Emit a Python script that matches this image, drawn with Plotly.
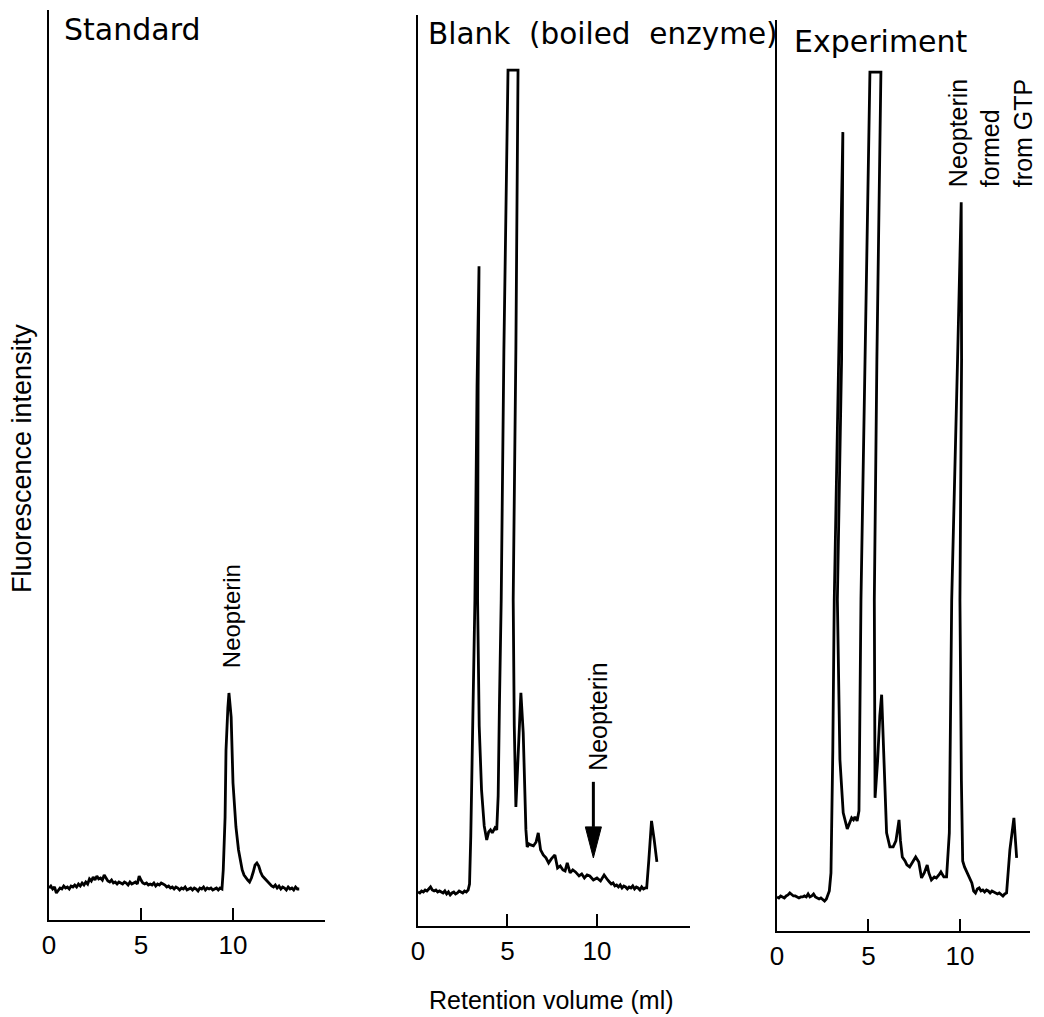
import plotly.graph_objects as go

# The page places the figure 8 px in from the window's top-left corner,
# so the figure is sized to fill the rest of the 1044x1017 window.
OFF = 8
W, H = 1044 - OFF, 1017 - OFF

# ---------------- data (retention volume in ml, fluorescence in arbitrary units) ----------------
std_x = [0.0, 0.1, 0.2, 0.3, 0.4, 0.5, 0.6, 0.7, 0.8, 0.9,
         1.0, 1.1, 1.2, 1.3, 1.4, 1.5, 1.6, 1.7, 1.8, 1.9,
         2.0, 2.1, 2.2, 2.3, 2.4, 2.5, 2.6, 2.7, 2.8, 2.9,
         3.0, 3.1, 3.2, 3.3, 3.4, 3.5, 3.6, 3.7, 3.8, 3.9,
         4.0, 4.1, 4.2, 4.3, 4.4, 4.5, 4.6, 4.7, 4.8, 4.9,
         5.0, 5.1, 5.2, 5.3, 5.4, 5.5, 5.6, 5.7, 5.8, 5.9,
         6.0, 6.1, 6.2, 6.3, 6.4, 6.5, 6.6, 6.7, 6.8, 6.9,
         7.0, 7.1, 7.2, 7.3, 7.4, 7.5, 7.6, 7.7, 7.8, 7.9,
         8.0, 8.1, 8.2, 8.3, 8.4, 8.5, 8.6, 8.7, 8.8, 8.9,
         9.0, 9.1, 9.2, 9.3, 9.4,
         9.47, 9.57, 9.62, 9.72, 9.78, 9.84, 9.9, 10.0, 10.08, 10.16,
         10.3, 10.5, 10.6, 10.7, 10.8, 10.9, 11.0, 11.1, 11.2, 11.3,
         11.35, 11.4, 11.5, 11.6, 11.7, 11.8, 11.9, 12.0, 12.1, 12.2,
         12.3, 12.4, 12.5, 12.6, 12.7, 12.8, 12.9, 13.0, 13.1, 13.2,
         13.3, 13.4, 13.5, 13.6]
std_y = [32, 34, 31, 33, 27, 30, 32, 31, 34, 32,
         33, 31, 34, 33, 35, 33, 36, 34, 37, 35,
         38, 36, 41, 39, 43, 40, 44, 41, 42, 40,
         45, 42, 39, 38, 40, 37, 38, 36, 38, 37,
         36, 38, 37, 35, 38, 36, 37, 38, 36, 44,
         40, 37, 36, 37, 35, 36, 35, 37, 34, 36,
         35, 37, 36, 35, 33, 34, 32, 33, 31, 33,
         32, 30, 32, 31, 33, 30, 31, 32, 30, 32,
         31, 29, 32, 31, 33, 30, 32, 31, 32, 30,
         31, 32, 30, 32, 31,
         50, 103, 170, 212, 227, 215, 203, 137, 115, 93,
         70, 50, 45, 42, 40, 38, 42, 48, 55, 57,
         56, 54, 48, 44, 42, 40, 37, 35, 34, 33,
         35, 32, 34, 31, 33, 32, 30, 33, 31, 32,
         30, 33, 31, 31]

blank_x = [0.0, 0.1, 0.2, 0.3, 0.4, 0.5, 0.6, 0.7, 0.8, 0.9,
           1.0, 1.1, 1.2, 1.3, 1.4, 1.5, 1.6, 1.7, 1.8, 1.9,
           2.0, 2.1, 2.2, 2.3, 2.4, 2.5, 2.6, 2.7, 2.8, 2.88,
           2.95, 3.05, 3.18, 3.3, 3.41, 3.36, 3.33, 3.42, 3.55, 3.7,
           3.84, 3.95, 4.05, 4.15, 4.3, 4.4, 4.48, 4.55, 4.65, 4.8,
           5.03, 5.59, 5.47, 5.32, 5.38, 5.47, 5.6, 5.75, 5.88, 6.03,
           6.1, 6.2, 6.3, 6.45, 6.6, 6.72, 6.85, 7.0, 7.15, 7.3,
           7.45, 7.65, 7.8, 7.95, 8.1, 8.22, 8.34, 8.5, 8.65, 8.8,
           9.0, 9.15, 9.3, 9.45, 9.6, 9.8, 10.0, 10.2, 10.4, 10.5,
           10.6, 10.7, 10.8, 10.9, 11.0, 11.1, 11.2, 11.3, 11.4, 11.5,
           11.6, 11.7, 11.8, 11.9, 12.0, 12.1, 12.2, 12.3, 12.4, 12.5,
           12.6, 12.7, 12.78, 12.9, 13.05, 13.2, 13.35]
blank_y = [34, 33, 35, 34, 36, 35, 37, 39, 36, 35,
           36, 34, 35, 34, 33, 35, 32, 34, 31, 33,
           34, 32, 33, 35, 34, 33, 35, 34, 36, 42,
           90, 190, 326, 540, 659, 540, 326, 200, 136, 100,
           86, 94, 96, 93, 98, 96, 130, 220, 326, 576,
           855, 855, 576, 326, 200, 119, 180, 233, 193, 96,
           79, 82, 81, 80, 84, 93, 76, 71, 68, 63,
           67, 71, 58, 60, 56, 55, 63, 53, 56, 54,
           50, 52, 48, 51, 50, 46, 48, 45, 51, 48,
           46, 44, 42, 43, 40, 41, 39, 41, 38, 40,
           39, 37, 39, 38, 40, 37, 39, 38, 36, 39,
           37, 38, 38, 66, 105, 86, 64]

exp_x = [0.0, 0.1, 0.2, 0.3, 0.4, 0.5, 0.6, 0.7, 0.8, 0.9,
         1.0, 1.1, 1.2, 1.3, 1.4, 1.5, 1.6, 1.7, 1.8, 1.9,
         2.0, 2.1, 2.2, 2.3, 2.4, 2.5, 2.6, 2.7, 2.8, 2.86,
         2.95, 3.05, 3.13, 3.39, 3.6, 3.53, 3.3, 3.44, 3.62, 3.84,
         3.95, 4.08, 4.18, 4.26, 4.38, 4.48, 4.59, 4.81, 5.08, 5.68,
         5.46, 5.32, 5.34, 5.36, 5.5, 5.62, 5.72, 5.85, 5.99, 6.17,
         6.35, 6.5, 6.67, 6.75, 6.85, 7.0, 7.1, 7.25, 7.4, 7.58,
         7.75, 7.9, 8.05, 8.21, 8.3, 8.44, 8.6, 8.71, 8.85, 8.96,
         9.12, 9.27, 9.42, 9.55, 9.87, 10.07, 10.09, 10.0, 10.08, 10.15,
         10.25, 10.4, 10.55, 10.65, 10.75, 10.85, 10.95, 11.05, 11.15, 11.25,
         11.35, 11.45, 11.55, 11.65, 11.75, 11.85, 11.95, 12.05, 12.15, 12.25,
         12.35, 12.45, 12.55, 12.73, 12.95, 13.1]
exp_y = [34, 33, 35, 34, 33, 35, 36, 38, 36, 35,
         35, 34, 33, 34, 34, 35, 34, 37, 34, 35,
         37, 34, 33, 32, 33, 31, 30, 32, 36, 40,
         58, 180, 331, 571, 798, 571, 331, 171, 118, 102,
         108, 113, 111, 114, 110, 120, 331, 571, 858, 858,
         571, 331, 200, 133, 170, 215, 236, 164, 98, 84,
         84, 90, 111, 90, 74, 70, 66, 64, 68, 74,
         69, 53, 58, 66, 58, 51, 54, 53, 56, 59,
         54, 54, 98, 331, 571, 728, 571, 331, 150, 70,
         64, 58, 53, 48, 40, 38, 42, 43, 40, 41,
         39, 41, 40, 38, 40, 39, 38, 37, 38, 36,
         35, 37, 38, 81, 113, 73]

x_ticks = [0, 5, 10]
x_ticktext = ["0", "5", "10"]

panel_titles = ["Standard", "Blank\u00a0\u00a0(boiled\u00a0\u00a0enzyme)", "Experiment"]
peak_label = "Neopterin"
exp_label = "Neopterin<br>formed<br>from GTP"
x_title = "Retention volume (ml)"
y_title = "Fluorescence intensity"

# arrow marking where neopterin would elute in the blank
arrow_x = 9.8
arrow_top = 144
arrow_head = 99
arrow_tip = 68
arrow_half = 0.45

# ---------------- layout geometry (window pixels) ----------------
# (left, right, bottom, top) of each panel's axes
panels = [(49, 325, 920, 10), (418, 690, 926, 15), (777, 1030, 931, 20)]
x_ranges = [[0, 15.0], [0, 15.2], [0, 13.83]]
y_range = [0, 910]


def px(x):
    return (x - OFF) / W


def py(y):
    return (H - (y - OFF)) / H


FONT = "Liberation Sans, Arial, Helvetica, sans-serif"
TFONT = "DejaVu Sans, Verdana, sans-serif"

fig = go.Figure()
series = [(std_x, std_y), (blank_x, blank_y), (exp_x, exp_y)]
for i, (xs, ys) in enumerate(series):
    assert len(xs) == len(ys)
    sfx = "" if i == 0 else str(i + 1)
    fig.add_trace(go.Scatter(x=xs, y=ys, mode="lines", xaxis="x" + sfx, yaxis="y" + sfx,
                             line=dict(color="black", width=2.8, shape="linear"),
                             showlegend=False, hoverinfo="skip"))

layout = dict(width=W, height=H, margin=dict(l=0, r=0, t=0, b=0, pad=0), autosize=False,
              paper_bgcolor="white", plot_bgcolor="white", showlegend=False)

for i, (l, r, b, t) in enumerate(panels):
    sfx = "" if i == 0 else str(i + 1)
    layout["xaxis" + sfx] = dict(domain=[px(l), px(r)], range=x_ranges[i], anchor="y" + sfx,
                                 showline=True, linecolor="black", linewidth=2,
                                 showgrid=False, zeroline=False, automargin=False,
                                 tickvals=x_ticks, ticktext=x_ticktext,
                                 ticks="inside", ticklen=12, tickwidth=2, tickcolor="black",
                                 tickfont=dict(family=FONT, size=26, color="black"),
                                 ticklabelstandoff=1)
    layout["yaxis" + sfx] = dict(domain=[py(b), py(t)], range=y_range,
                                 anchor="x" + sfx, showline=True, linecolor="black",
                                 linewidth=2, showgrid=False, zeroline=False, automargin=False,
                                 showticklabels=False, ticks="")
fig.update_layout(**layout)

annotations = []
title_pos = [(0.72, 891), (0.45, 891), (0.82, 889)]
title_size = [30, 29.5, 30]
for i, txt in enumerate(panel_titles):
    sfx = "" if i == 0 else str(i + 1)
    annotations.append(dict(x=title_pos[i][0], y=title_pos[i][1], xref="x" + sfx, yref="y" + sfx,
                            text=txt, showarrow=False, xanchor="left", yanchor="middle",
                            font=dict(family=TFONT, size=title_size[i], color="black")))

# peak labels
annotations.append(dict(x=9.9, y=250, xref="x", yref="y", text=peak_label, textangle=-90,
                        showarrow=False, xanchor="center", yanchor="bottom",
                        font=dict(family=FONT, size=24, color="black")))
annotations.append(dict(x=10.06, y=153, xref="x2", yref="y2", text=peak_label, textangle=-90,
                        showarrow=False, xanchor="center", yanchor="bottom",
                        font=dict(family=FONT, size=25, color="black")))
annotations.append(dict(x=11.64, y=741, xref="x3", yref="y3", text=exp_label, textangle=-90,
                        showarrow=False, xanchor="center", yanchor="bottom", align="left",
                        font=dict(family=FONT, size=25, color="black")))

# axis titles
annotations.append(dict(x=px(551), y=py(1000), xref="paper", yref="paper", text=x_title,
                        showarrow=False, xanchor="center", yanchor="middle",
                        font=dict(family=FONT, size=25, color="black")))
annotations.append(dict(x=px(22), y=py(459), xref="paper", yref="paper", text=y_title,
                        textangle=-90, showarrow=False, xanchor="center", yanchor="middle",
                        font=dict(family=FONT, size=27, color="black")))
fig.update_layout(annotations=annotations)

# arrow (shaft + filled head) in the blank panel
fig.add_shape(type="line", xref="x2", yref="y2", x0=arrow_x, x1=arrow_x, y0=arrow_top,
              y1=arrow_head, line=dict(color="black", width=3))
fig.add_shape(type="path", xref="x2", yref="y2",
              path=f"M {arrow_x - arrow_half},{arrow_head} L {arrow_x + arrow_half},{arrow_head} "
                   f"L {arrow_x},{arrow_tip} Z",
              fillcolor="black", line=dict(color="black", width=1))

fig.write_html("out.html")
